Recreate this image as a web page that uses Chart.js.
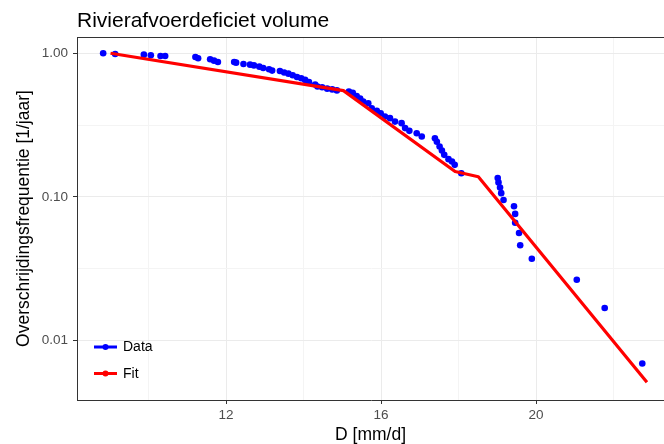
<!DOCTYPE html>
<html>
<head>
<meta charset="utf-8">
<script src="https://cdn.jsdelivr.net/npm/chart.js@4/dist/chart.umd.min.js"></script>
<style>
  html, body { margin: 0; padding: 0; background: #fff; overflow: hidden; }
  #wrap { width: 664px; height: 444px; position: relative; overflow: hidden; }
</style>
</head>
<body>
<div id="wrap"><canvas id="c" width="680" height="444"></canvas></div>
<script>
// ---- data ----
const titleText = "Rivierafvoerdeficiet volume";
const xTitle = "D [mm/d]";
const yTitle = "Overschrijdingsfrequentie [1/jaar]";

const dataD = [8.83, 9.14, 9.88, 10.06, 10.31, 10.43, 11.21, 11.28, 11.59, 11.69,
  11.79, 12.21, 12.26, 12.45, 12.62, 12.72, 12.86, 12.96, 13.11, 13.19,
  13.39, 13.50, 13.61, 13.72, 13.83, 13.94, 14.04, 14.14, 14.30, 14.36,
  14.48, 14.61, 14.74, 14.86, 15.17, 15.27, 15.37, 15.46, 15.54, 15.67,
  15.76, 15.89, 15.99, 16.10, 16.23, 16.36, 16.53, 16.62, 16.73, 16.92,
  17.05, 17.39, 17.44, 17.51, 17.57, 17.63, 17.74, 17.83, 17.90, 18.07,
  19.01, 19.03, 19.07, 19.10, 19.16, 19.43, 19.46, 19.46, 19.56, 19.59,
  19.89, 21.05, 21.77, 22.74];
const dataFreq = [1.000, 0.989, 0.978, 0.968, 0.958, 0.958, 0.942, 0.923, 0.908, 0.888,
  0.870, 0.870, 0.860, 0.842, 0.833, 0.823, 0.807, 0.790, 0.774, 0.757,
  0.753, 0.735, 0.721, 0.703, 0.684, 0.670, 0.652, 0.631, 0.606, 0.586,
  0.580, 0.567, 0.560, 0.551, 0.542, 0.530, 0.504, 0.484, 0.461, 0.449,
  0.414, 0.398, 0.382, 0.362, 0.353, 0.334, 0.326, 0.301, 0.288, 0.277,
  0.263, 0.256, 0.242, 0.224, 0.210, 0.196, 0.183, 0.176, 0.167, 0.146,
  0.135, 0.126, 0.116, 0.106, 0.095, 0.086, 0.076, 0.066, 0.056, 0.046,
  0.037, 0.0264, 0.0168, 0.0069];

const fitD = [9.02, 15.03, 17.91, 18.51, 22.86];
const fitFreq = [1.00, 0.549, 0.150, 0.138, 0.0051];

const xTickValues = [10, 12, 14, 16, 18, 20, 22];
const xTickLabels = ["", "12", "", "16", "", "20", ""];
const yTickValues = [0.01, 0.0316228, 0.1, 0.316228, 1];
const yTickLabels = ["0.01", "", "0.10", "", "1.00"];

const legendItems = ["Data", "Fit"];
const seriesColors = ["#0000FF", "#FF0000"];

// ---- chart ----
const FONT = "'Liberation Sans', Arial, sans-serif";
const isMajorX = v => xTickLabels[xTickValues.indexOf(v)] !== "";
const isMajorY = v => {
  const i = yTickValues.findIndex(t => Math.abs(t - v) / t < 1e-3);
  return i >= 0 && yTickLabels[i] !== "";
};

const overlay = {
  id: 'overlay',
  afterDraw(chart) {
    const ctx = chart.ctx, a = chart.chartArea;
    ctx.save();
    // top panel border
    ctx.strokeStyle = '#333333';
    ctx.lineWidth = 1;
    ctx.beginPath();
    ctx.moveTo(a.left, Math.round(a.top) + 0.5);
    ctx.lineTo(a.right, Math.round(a.top) + 0.5);
    ctx.stroke();
    // title
    ctx.fillStyle = '#000';
    ctx.font = "21px " + FONT;
    ctx.textAlign = 'left';
    ctx.textBaseline = 'alphabetic';
    ctx.fillText(titleText, a.left, 27);
    // axis titles
    ctx.font = "17.5px " + FONT;
    ctx.textAlign = 'center';
    ctx.textBaseline = 'middle';
    ctx.fillText(xTitle, (a.left + 664) / 2, 435);
    ctx.save();
    ctx.translate(24, (a.top + a.bottom) / 2);
    ctx.rotate(-Math.PI / 2);
    ctx.fillText(yTitle, 0, 0);
    ctx.restore();
    // legend
    const ys = [347, 373.5];
    legendItems.forEach((lab, i) => {
      const y = ys[i];
      ctx.strokeStyle = seriesColors[i];
      ctx.lineWidth = 3;
      ctx.beginPath();
      ctx.moveTo(94, y);
      ctx.lineTo(117, y);
      ctx.stroke();
      ctx.fillStyle = seriesColors[i];
      ctx.beginPath();
      ctx.arc(105.5, y, 3, 0, Math.PI * 2);
      ctx.fill();
      ctx.fillStyle = '#000';
      ctx.font = "14px " + FONT;
      ctx.textAlign = 'left';
      ctx.textBaseline = 'middle';
      ctx.fillText(lab, 123, y + 0.5);
    });
    ctx.restore();
  }
};

new Chart(document.getElementById('c'), {
  data: {
    datasets: [
      {
        type: 'line',
        label: 'Fit',
        data: fitD.map((d, i) => ({ x: d, y: fitFreq[i] })),
        borderColor: seriesColors[1],
        backgroundColor: seriesColors[1],
        borderWidth: 3.2,
        pointRadius: 0,
        borderJoinStyle: 'round',
        tension: 0,
        fill: false,
        order: 0
      },
      {
        type: 'scatter',
        label: 'Data',
        data: dataD.map((d, i) => ({ x: d, y: dataFreq[i] })),
        backgroundColor: seriesColors[0],
        borderColor: seriesColors[0],
        borderWidth: 0,
        pointRadius: 3.3,
        order: 1
      }
    ]
  },
  options: {
    responsive: false,
    animation: false,
    devicePixelRatio: 1,
    layout: { padding: { top: 37, right: 15, left: 0, bottom: 0 } },
    plugins: { legend: { display: false }, tooltip: { enabled: false }, title: { display: false } },
    scales: {
      x: {
        type: 'linear',
        min: 8.155,
        max: 23.326,
        afterFit(s) { s.height = 44; },
        afterBuildTicks(s) { s.ticks = xTickValues.map(v => ({ value: v })); },
        ticks: {
          autoSkip: false,
          maxRotation: 0,
          padding: 3,
          color: '#4D4D4D',
          font: { family: FONT, size: 13.5 },
          callback: (v) => { const i = xTickValues.indexOf(v); return i >= 0 ? xTickLabels[i] : ""; }
        },
        grid: {
          color: c => (c.tick && isMajorX(c.tick.value)) ? '#EBEBEB' : '#F4F4F4',
          lineWidth: 1,
          tickLength: 4,
          tickColor: c => (c.tick && isMajorX(c.tick.value)) ? '#333333' : 'rgba(0,0,0,0)'
        },
        border: { display: true, color: '#333333', width: 1 }
      },
      y: {
        type: 'logarithmic',
        min: 0.00384,
        max: 1.298,
        afterFit(s) { s.width = 77; },
        afterBuildTicks(s) { s.ticks = yTickValues.map(v => ({ value: v })); },
        ticks: {
          autoSkip: false,
          padding: 5,
          color: '#4D4D4D',
          font: { family: FONT, size: 13.5 },
          callback: (v) => {
            const i = yTickValues.findIndex(t => Math.abs(t - v) / t < 1e-3);
            return i >= 0 ? yTickLabels[i] : "";
          }
        },
        grid: {
          color: c => (c.tick && isMajorY(c.tick.value)) ? '#EBEBEB' : '#F4F4F4',
          lineWidth: 1,
          tickLength: 4,
          tickColor: c => (c.tick && isMajorY(c.tick.value)) ? '#333333' : 'rgba(0,0,0,0)'
        },
        border: { display: true, color: '#333333', width: 1 }
      }
    }
  },
  plugins: [overlay]
});
</script>
</body>
</html>
